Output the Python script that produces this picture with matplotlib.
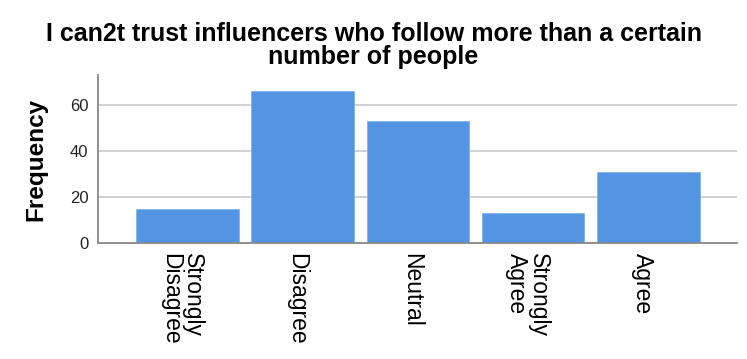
import matplotlib.pyplot as plt

categories = ["Strongly\nDisagree", "Disagree", "Neutral", "Strongly\nAgree", "Agree"]
frequency = [15, 66, 53, 13, 31]
title = "I can2t trust influencers who follow more than a certain\nnumber of people"

plt.rcParams['font.family'] = ['Liberation Sans', 'DejaVu Sans']

fig = plt.figure(figsize=(7.47, 3.59), dpi=100)
ax = fig.add_axes([0.1312, 0.323, 0.8554, 0.468])

x = list(range(len(categories)))
ax.bar(x, frequency, width=0.89, color='#5394e3', edgecolor='#84b3ec',
       linewidth=0.6, zorder=3)

ax.set_xlim(-0.776, 4.77)
ax.set_ylim(0, 73)
ax.set_yticks([0, 20, 40, 60])
ax.yaxis.grid(True, color='#c8c8c8', linewidth=1.2, zorder=0)
ax.set_xticks([i - 0.05 for i in x])
ax.set_xticklabels(categories, rotation=270, fontsize=16.5, va='top',
                   ha='center', multialignment='left', linespacing=0.95)
ax.tick_params(axis='x', length=0, pad=7)
ax.tick_params(axis='y', length=0, pad=7, labelsize=12, labelcolor='#222222')

for side in ['top', 'right']:
    ax.spines[side].set_visible(False)
ax.spines['left'].set_color('#888888')
ax.spines['left'].set_linewidth(1.3)
ax.spines['bottom'].set_color('#888888')
ax.spines['bottom'].set_linewidth(1.3)
ax.spines['bottom'].set_zorder(4)

ax.set_ylabel("Frequency", fontsize=17.5, fontweight='bold', labelpad=16)
fig.text(0.5, 0.938, title, ha='center', va='top', fontsize=18,
         fontweight='bold', linespacing=0.95)

fig.savefig('out.png', dpi=100)
